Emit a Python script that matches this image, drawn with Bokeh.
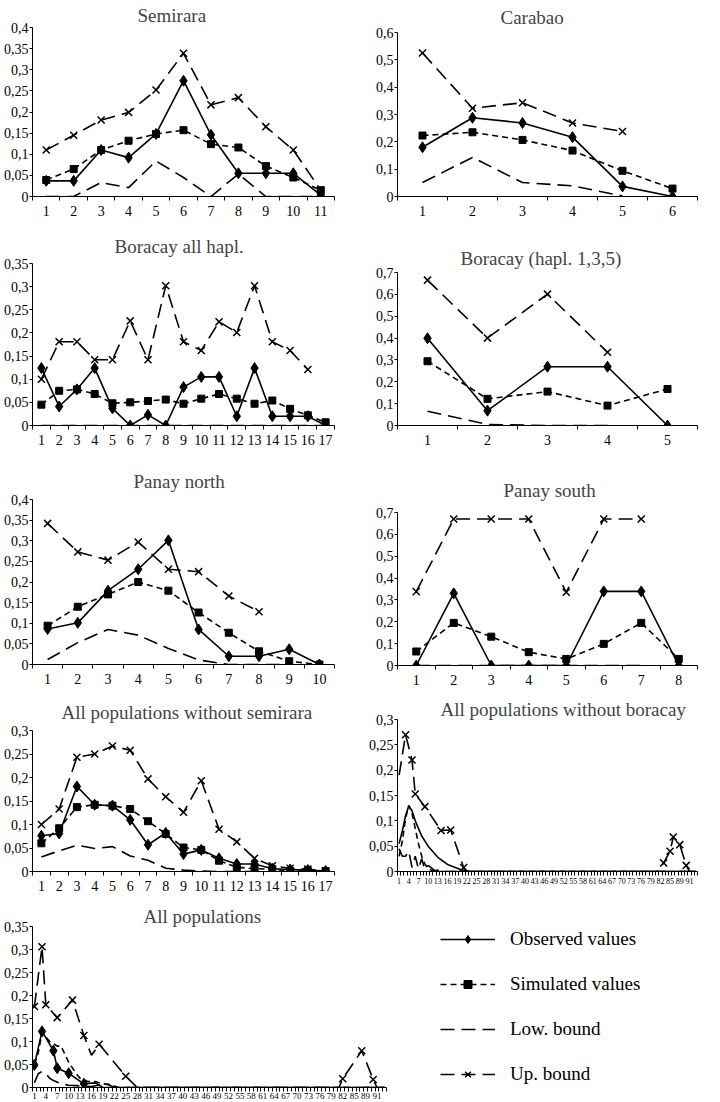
from bokeh.plotting import figure
from bokeh.models import Range1d, FixedTicker, CustomJSTickFormatter, Legend, LegendItem
from bokeh.layouts import row, column
from bokeh.embed import file_html
from bokeh.resources import INLINE

FONT = "Liberation Serif"

# ---------------- data ----------------
semirara_obs = [0.037, 0.037, 0.110, 0.092, 0.148, 0.274, 0.146, 0.055, 0.055, 0.055, 0.003]
semirara_sim = [0.039, 0.065, 0.110, 0.132, 0.148, 0.157, 0.124, 0.116, 0.072, 0.045, 0.015]
semirara_low = [0.0, 0.0, 0.033, 0.021, 0.084, 0.045, 0.0, 0.053, 0.0, 0.0, 0.0]
semirara_up = [0.110, 0.145, 0.181, 0.199, 0.252, 0.339, 0.217, 0.234, 0.165, 0.110, 0.015]

carabao_obs = [0.180, 0.288, 0.269, 0.217, 0.037, 0.0]
carabao_sim = [0.223, 0.235, 0.207, 0.168, 0.094, 0.029]
carabao_low = [0.051, 0.143, 0.051, 0.039, 0.002]
carabao_up = [0.525, 0.323, 0.343, 0.269, 0.238]

boracay_obs = [0.124, 0.041, 0.078, 0.124, 0.037, 0.0, 0.023, 0.0, 0.083, 0.105, 0.105, 0.020, 0.124, 0.020, 0.020, 0.020, 0.0]
boracay_sim = [0.045, 0.075, 0.078, 0.068, 0.048, 0.050, 0.053, 0.056, 0.047, 0.058, 0.068, 0.058, 0.047, 0.054, 0.036, 0.022, 0.007]
boracay_low = [0.0] * 17
boracay_up = [0.100, 0.181, 0.181, 0.142, 0.142, 0.226, 0.142, 0.302, 0.181, 0.162, 0.224, 0.201, 0.302, 0.181, 0.162, 0.121]

bor135_obs = [0.399, 0.068, 0.269, 0.269, 0.0]
bor135_sim = [0.294, 0.122, 0.155, 0.091, 0.167]
bor135_low = [0.065, 0.005, 0.0, 0.0]
bor135_up = [0.665, 0.400, 0.601, 0.335]

pnorth_obs = [0.086, 0.101, 0.179, 0.231, 0.301, 0.085, 0.020, 0.020, 0.037, 0.0]
pnorth_sim = [0.094, 0.140, 0.170, 0.200, 0.179, 0.126, 0.077, 0.032, 0.008, 0.0]
pnorth_low = [0.012, 0.053, 0.085, 0.071, 0.039, 0.011, 0.0, 0.0, 0.0]
pnorth_up = [0.342, 0.273, 0.253, 0.297, 0.231, 0.225, 0.166, 0.128]

psouth_obs = [0.0, 0.330, 0.0, 0.0, 0.0, 0.339, 0.339, 0.0]
psouth_sim = [0.064, 0.195, 0.132, 0.061, 0.030, 0.099, 0.195, 0.030]
psouth_low = [0.0] * 7
psouth_up = [0.338, 0.670, 0.670, 0.670, 0.335, 0.670, 0.670]

wos_obs = [0.076, 0.081, 0.181, 0.142, 0.140, 0.110, 0.057, 0.082, 0.037, 0.046, 0.028, 0.016, 0.016, 0.006, 0.004, 0.003, 0.001]
wos_sim = [0.060, 0.092, 0.137, 0.142, 0.140, 0.133, 0.107, 0.080, 0.051, 0.046, 0.023, 0.009, 0.006, 0.005, 0.001, 0.001, 0.001]
wos_low = [0.031, 0.044, 0.056, 0.049, 0.053, 0.033, 0.024, 0.007, 0.003, 0.001, 0.0, 0.0, 0.0]
wos_up = [0.100, 0.133, 0.243, 0.250, 0.267, 0.258, 0.197, 0.159, 0.126, 0.193, 0.090, 0.063, 0.028, 0.012, 0.007, 0.005, 0.001]

# many-haplotype panels: category positions and values
wob_obs_cats = [1, 2, 3, 4, 5, 6, 7, 8, 10, 13, 16, 20, 23, 93]
wob_obs = [0.055, 0.080, 0.110, 0.130, 0.120, 0.100, 0.085, 0.070, 0.050, 0.028, 0.014, 0.004, 0.0, 0.0]
wob_sim_cats = [1, 2, 3, 4, 5, 6, 7, 8, 9, 10, 12, 93]
wob_sim = [0.030, 0.060, 0.105, 0.130, 0.115, 0.085, 0.055, 0.030, 0.015, 0.005, 0.0, 0.0]
wob_low_cats = [1, 2, 3, 4, 5, 6, 7, 8, 9, 10, 12, 14, 16, 93]
wob_low = [0.045, 0.030, 0.030, 0.040, 0.008, 0.030, 0.005, 0.025, 0.004, 0.012, 0.002, 0.003, 0.0, 0.0]
wob_up_cats = [1, 3, 5, 6, 9, 14, 17, 21, 22, 81, 83, 85, 86, 88, 90, 91, 93]
wob_up = [0.190, 0.270, 0.220, 0.153, 0.128, 0.081, 0.082, 0.008, 0.0, 0.0, 0.017, 0.040, 0.068, 0.053, 0.012, 0.0, 0.0]
wob_up_marks = [3, 5, 6, 9, 14, 17, 21, 83, 85, 86, 88, 90]

all_obs_cats = [1, 3, 6, 7, 10, 14, 17, 19, 93]
all_obs = [0.049, 0.122, 0.080, 0.042, 0.031, 0.008, 0.010, 0.0, 0.0]
all_obs_marks = [1, 3, 6, 7, 10, 14]
all_sim_cats = [1, 2, 3, 5, 7, 8, 10, 12, 13, 15, 17, 19, 21, 23, 93]
all_sim = [0.050, 0.075, 0.120, 0.100, 0.090, 0.090, 0.055, 0.030, 0.020, 0.013, 0.013, 0.008, 0.006, 0.0, 0.0]
all_low_cats = [1, 2, 3, 4, 5, 6, 8, 10, 12, 14, 16, 20, 22, 93]
all_low = [0.010, 0.030, 0.035, 0.030, 0.020, 0.015, 0.008, 0.005, 0.004, 0.003, 0.002, 0.008, 0.0, 0.0]
all_up_cats = [1, 3, 4, 7, 11, 14, 16, 18, 25, 28, 81, 82, 87, 90, 91, 93]
all_up = [0.176, 0.306, 0.180, 0.152, 0.190, 0.113, 0.070, 0.094, 0.0245, 0.0, 0.0, 0.019, 0.080, 0.0175, 0.0, 0.0]
all_up_marks = [1, 3, 4, 7, 11, 14, 18, 25, 82, 87, 90]

many_n_cats = 93
many_tick_labels = ["1", "4", "7", "10", "13", "16", "19", "22", "25", "28", "31", "34", "37", "40",
                    "43", "46", "49", "52", "55", "58", "61", "64", "67", "70", "73", "76", "79",
                    "82", "85", "89", "91"]

legend_labels = ["Observed values", "Simulated values", "Low. bound", "Up. bound"]

# ---------------- styles ----------------
STYLE = {
    "obs": dict(dash="solid", marker="diamond", size=11),
    "sim": dict(dash="6 4", marker="square", size=7),
    "low": dict(dash="14 7", marker=None, size=0),
    "up": dict(dash="14 7", marker="x", size=10),
}

YFMT = """
let s = tick.toFixed(2);
s = s.replace(/0+$/, '').replace(/\\.$/, '');
return s.replace('.', ',');
"""


def make_panel(title, ncat, ymax, ystep, width, height, mbl, mbr, mbb, standoff, toffset,
               tick_pos=None, tick_labels=None, xfont="14px", xstand=5):
    p = figure(width=width, height=height, x_range=Range1d(0.5, ncat + 0.5),
               y_range=Range1d(0, ymax), output_backend="svg", toolbar_location=None,
               min_border_left=mbl, min_border_right=mbr, min_border_bottom=mbb,
               min_border_top=0, title=title)
    p.title.align = "left"
    p.title.text_font = FONT
    p.title.text_font_size = "19px"
    p.title.text_font_style = "normal"
    p.title.standoff = standoff
    p.title.offset = toffset
    p.xgrid.visible = False
    p.ygrid.visible = False
    p.outline_line_color = None
    p.background_fill_color = "white"
    p.border_fill_color = "white"

    xa = p.xaxis[0]
    if tick_pos is None:
        tick_pos = list(range(1, ncat + 1))
    xa.ticker = FixedTicker(ticks=tick_pos, minor_ticks=[k + 0.5 for k in range(ncat + 1)])
    if tick_labels is not None:
        xa.formatter = CustomJSTickFormatter(args=dict(labels=tick_labels), code="return labels[index];")
    xa.major_tick_out = 0
    xa.major_tick_in = 0
    xa.major_tick_line_color = None
    xa.minor_tick_out = 4
    xa.minor_tick_in = 0
    xa.minor_tick_line_color = "black"
    xa.major_label_standoff = xstand
    xa.major_label_text_font = FONT
    xa.major_label_text_font_size = xfont
    xa.major_label_text_color = "black"
    xa.axis_line_color = "black"

    ya = p.yaxis[0]
    nt = int(round(ymax / ystep))
    ya.ticker = FixedTicker(ticks=[round(i * ystep, 4) for i in range(nt + 1)], minor_ticks=[])
    ya.formatter = CustomJSTickFormatter(code=YFMT)
    ya.major_tick_out = 3
    ya.major_tick_in = 0
    ya.minor_tick_line_color = None
    ya.major_label_standoff = 1
    ya.major_label_text_font = FONT
    ya.major_label_text_font_size = "14px"
    ya.major_label_text_color = "black"
    ya.axis_line_color = "black"
    return p


def draw(p, cats, vals, kind, marks="all"):
    st = STYLE[kind]
    xs = list(cats)[:len(vals)]
    p.line(xs, vals, line_color="black", line_width=1.6, line_dash=st["dash"])
    if st["marker"] is None or marks is None:
        return
    if marks == "all":
        mx, my = xs, list(vals)
    else:
        lookup = dict(zip(xs, vals))
        mx = list(marks)
        my = [lookup[c] for c in marks]
    if kind == "up":
        p.scatter(mx, my, marker="x", size=st["size"], line_color="black", line_width=1.5)
    else:
        p.scatter(mx, my, marker=st["marker"], size=st["size"], fill_color="black", line_color="black")


def simple(p, n, obs, sim, low, up):
    cats = list(range(1, n + 1))
    draw(p, cats, obs, "obs")
    draw(p, cats, sim, "sim")
    draw(p, cats, low, "low")
    draw(p, cats, up, "up")


# ---------------- panels ----------------
p1 = make_panel("Semirara", 11, 0.4, 0.05, 360, 227, 30, 22, 31, 4, 105)
simple(p1, 11, semirara_obs, semirara_sim, semirara_low, semirara_up)

p2 = make_panel("Carabao", 6, 0.6, 0.1, 360, 242, 37, 23, 46, 9, 103)
simple(p2, 6, carabao_obs, carabao_sim, carabao_low, carabao_up)

p3 = make_panel("Boracay all hapl.", 17, 0.35, 0.05, 360, 234, 30, 10, 36, 13, 82)
simple(p3, 17, boracay_obs, boracay_sim, boracay_low, boracay_up)

p4 = make_panel("Boracay (hapl. 1,3,5)", 5, 0.7, 0.1, 360, 223, 37, 2, 40, 7, 63)
simple(p4, 5, bor135_obs, bor135_sim, bor135_low, bor135_up)

p5 = make_panel("Panay north", 10, 0.4, 0.05, 360, 230, 30, 9, 27, 15, 101)
simple(p5, 10, pnorth_obs, pnorth_sim, pnorth_low, pnorth_up)

p6 = make_panel("Panay south", 8, 0.7, 0.1, 360, 231, 36, 0, 31, 24, 106)
simple(p6, 8, psouth_obs, psouth_sim, psouth_low, psouth_up)

p7 = make_panel("All populations without semirara", 17, 0.3, 0.05, 360, 212, 30, 26, 32, 16, 29)
simple(p7, 17, wos_obs, wos_sim, wos_low, wos_up)

many_pos = [1 + 3 * i for i in range(len(many_tick_labels))]

p8 = make_panel("All populations without boracay", many_n_cats, 0.3, 0.05, 360, 207, 36, 13, 32, 0, 43,
                tick_pos=many_pos, tick_labels=many_tick_labels, xfont="8px", xstand=2)
draw(p8, wob_obs_cats, wob_obs, "obs", marks=None)
draw(p8, wob_sim_cats, wob_sim, "sim", marks=None)
draw(p8, wob_low_cats, wob_low, "low")
draw(p8, wob_up_cats, wob_up, "up", marks=wob_up_marks)

p9 = make_panel("All populations", many_n_cats, 0.35, 0.05, 400, 198, 30, 14, 12, 0, 111,
                tick_pos=many_pos, tick_labels=many_tick_labels, xfont="9px", xstand=1)
draw(p9, all_obs_cats, all_obs, "obs", marks=all_obs_marks)
draw(p9, all_sim_cats, all_sim, "sim", marks=None)
draw(p9, all_low_cats, all_low, "low")
draw(p9, all_up_cats, all_up, "up", marks=all_up_marks)

# ---------------- legend panel ----------------
lg = figure(width=320, height=198, x_range=Range1d(0, 1), y_range=Range1d(0, 1),
            output_backend="svg", toolbar_location=None, min_border=0, title=None,
            x_axis_location=None, y_axis_location=None)
lg.xgrid.visible = False
lg.ygrid.visible = False
lg.outline_line_color = None
items = []
for label, kind in zip(legend_labels, ["obs", "sim", "low", "up"]):
    st = STYLE[kind]
    rs = [lg.line([5, 6], [5, 6], line_color="black", line_width=1.6, line_dash=st["dash"])]
    if st["marker"] == "x":
        rs.append(lg.scatter([5], [5], marker="x", size=st["size"], line_color="black", line_width=1.5))
    elif st["marker"] is not None:
        rs.append(lg.scatter([5], [5], marker=st["marker"], size=st["size"], fill_color="black", line_color="black"))
    items.append(LegendItem(label=label, renderers=rs))
legend = Legend(items=items, location=(40, 2), orientation="vertical", glyph_width=55, glyph_height=20,
                label_height=20, spacing=23, padding=0, margin=0, label_standoff=15,
                border_line_color=None, background_fill_alpha=0, label_text_font=FONT,
                label_text_font_size="19px", label_text_color="black")
lg.add_layout(legend, "center")

layout = column(
    row(column(p1, p3, p5, p7), column(p2, p4, p6, p8)),
    row(p9, lg),
)

open("out.html", "w").write(file_html(layout, INLINE))
